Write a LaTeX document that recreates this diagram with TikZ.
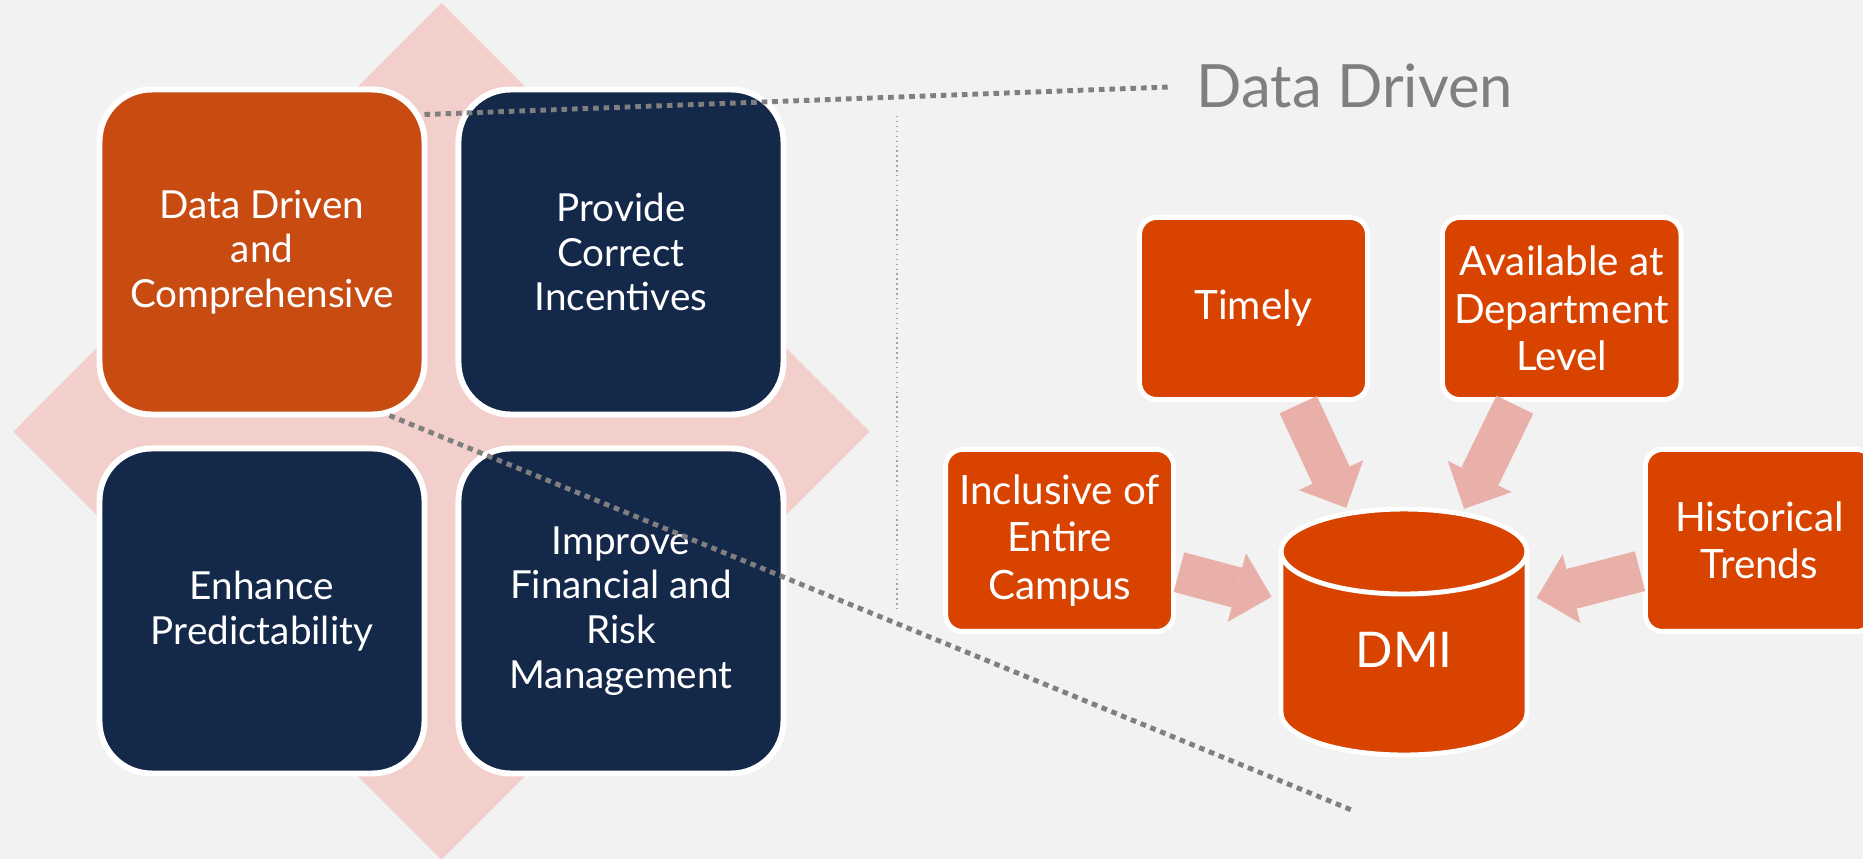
\documentclass[tikz,border=0pt]{standalone}
\usepackage{fontspec}
\setmainfont{Lato}
\usepackage{xcolor}
\usetikzlibrary{positioning, arrows.meta}

\definecolor{slidebg}{HTML}{F2F2F2}
\definecolor{petal}{HTML}{F2CFCA}
\definecolor{rust}{HTML}{C84B12}
\definecolor{navy}{HTML}{14284A}
\definecolor{flame}{HTML}{D84400}
\definecolor{salmon}{HTML}{E9B0A9}
\definecolor{leader}{HTML}{7F7F7F}

\tikzset{
    node distance=0.28cm,                       % gap between the four big tiles
    quad/.style={draw=white, line width=1.7pt, rounded corners=0.52cm,
        minimum size=3.25cm, text=white, align=center,
        font=\fontsize{11}{12.7}\selectfont},
    tile/.style={draw=white, line width=1.4pt, rounded corners=0.17cm, fill=flame,
        minimum width=2.28cm, minimum height=1.82cm, text=white, align=center,
        font=\fontsize{11.5}{13.5}\selectfont},
    drum/.style={fill=flame, draw=white, line width=1.4pt},
    rim/.style={x radius=1.23cm, y radius=0.425cm},
    feed/.style={draw=salmon, line width=0.41cm,
        -{Triangle[width=0.71cm, length=0.36cm, line width=0pt]},
        shorten <=0.03cm, shorten >=1.37cm},   % stop on the drum's lid
    leaderline/.style={draw=leader, line width=1.4pt, dash pattern=on 1.6pt off 1.4pt},
}

\begin{document}
\begin{tikzpicture}
\useasboundingbox (0,0) rectangle (18.63,8.59);
\fill[slidebg] (0,0) rectangle (18.63,8.59);

% pink diamond behind the grid
\fill[petal] (4.415,8.56) -- (8.695,4.275) -- (4.415,-0.005) -- (0.135,4.275) -- cycle;

\node[quad, fill=rust] (ddc) at (2.62,6.07) {Data Driven\\and\\Comprehensive};
\node[quad, fill=navy, right=of ddc] (pci) {Provide\\Correct\\Incentives};
\node[quad, fill=navy, below=of ddc] (ep) {Enhance\\Predictability};
\node[quad, fill=navy, right=of ep] (ifrm) {Improve\\Financial and\\Risk\\Management};

% zoom-in callout
\node[text=leader, font=\fontsize{17}{20}\selectfont, anchor=west, inner sep=0pt] (ddhead) at (11.96,7.73) {Data Driven};
\coordinate (tail) at (13.54,0.48);
\draw[leaderline, shorten >=0.26cm] ([xshift=-0.03cm, yshift=-0.28cm]ddc.north east) -- (ddhead.west);
\draw[leaderline] ([xshift=-0.38cm, yshift=0.02cm]ddc.south east) -- (tail);
\draw[leader!70, line width=0.4pt, densely dotted] (8.97,7.43) -- (8.97,2.47);

% the DMI drum
\node[minimum size=2.46cm, inner sep=0pt, outer sep=0pt] (dmi) at (14.04,2.27) {};
\draw[drum] ([yshift=-0.425cm]dmi.north west) -- ([yshift=0.425cm]dmi.south west)
    arc[start angle=180, end angle=360, rim] -- ([yshift=-0.425cm]dmi.north east)
    arc[start angle=0, end angle=180, rim] -- cycle;
\draw[white, line width=1.4pt] ([yshift=-0.425cm]dmi.north west) arc[start angle=180, end angle=360, rim];
\node[text=white, font=\fontsize{14}{17}\selectfont] (dmilabel) at ([yshift=-0.18cm]dmi.center) {DMI};

\node[tile] (timely) at (12.535,5.505) {Timely};
\node[tile, right=0.7cm of timely] (avail) {Available at\\Department\\Level};
\node[tile, below left=0.45cm and -0.39cm of timely] (incl) {Inclusive of\\Entire\\Campus};
\node[tile, below right=0.45cm and -0.405cm of avail] (hist) {Historical\\Trends};

\draw[feed] (timely) -- (dmi.center);
\draw[feed] (avail) -- (dmi.center);
\draw[feed] (incl) -- (dmi.center);
\draw[feed] (hist) -- (dmi.center);

\end{tikzpicture}
\end{document}
